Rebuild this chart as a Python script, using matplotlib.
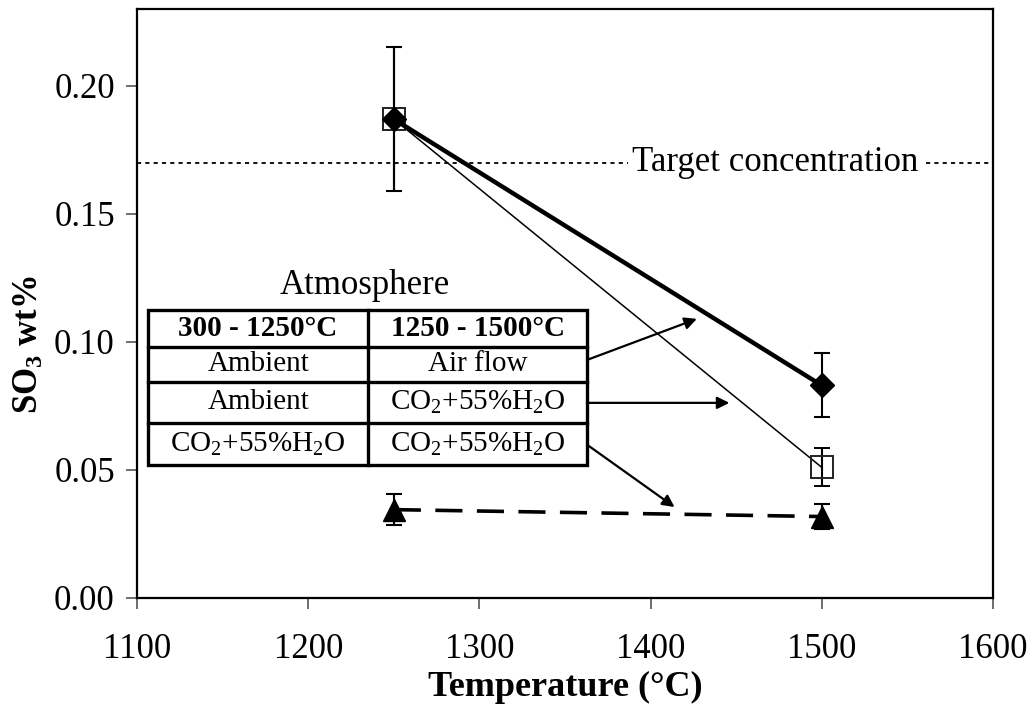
import matplotlib
matplotlib.use("Agg")
import matplotlib.pyplot as plt
from matplotlib.patches import Rectangle

plt.rcParams["font.family"] = ["Liberation Serif", "DejaVu Serif"]
plt.rcParams["mathtext.fontset"] = "custom"
plt.rcParams["mathtext.rm"] = "Liberation Serif"
plt.rcParams["mathtext.it"] = "Liberation Serif:italic"
plt.rcParams["mathtext.bf"] = "Liberation Serif:bold"

# data (SO3 wt% vs final temperature)
temps = [1250, 1500]
air_flow = [0.187, 0.083]
air_flow_err = [0.028, 0.0125]
co2_late = [0.187, 0.051]
co2_late_err = [0.028, 0.0074]
co2_all = [0.0345, 0.0318]
co2_all_err = [0.006, 0.005]
target = 0.17

x_ticks = [1100, 1200, 1300, 1400, 1500, 1600]
y_ticks = [0.00, 0.05, 0.10, 0.15, 0.20]

table_header = ["300 - 1250°C", "1250 - 1500°C"]
table_rows = [
    ["Ambient", "Air flow"],
    ["Ambient", "CO$_2$+55%H$_2$O"],
    ["CO$_2$+55%H$_2$O", "CO$_2$+55%H$_2$O"],
]

FS = 25
TABLE_FS = 21

fig = plt.figure(figsize=(10.32, 7.17), dpi=100)
ax = fig.add_axes([0.1328, 0.166, 0.8294, 0.8214])

err_kw = dict(ecolor="black", elinewidth=1.5, capsize=6, capthick=1.5)

# hollow squares first, diamonds drawn on top
ax.errorbar(temps, co2_late, yerr=co2_late_err, color="black", lw=1.1,
            marker="s", ms=15.5, mfc="none", mec="#222222", mew=1.4, zorder=3, **err_kw)
ax.errorbar(temps, air_flow, yerr=air_flow_err, color="black", lw=3.2,
            marker="D", ms=12, mfc="black", mec="black", zorder=4, **err_kw)
ax.errorbar(temps, co2_all, yerr=co2_all_err, color="black", lw=2.6,
            dashes=(7.5, 4), marker="^", ms=16.5, mfc="black", mec="black",
            zorder=4, **err_kw)

ax.axhline(target, color="black", lw=1.3, dashes=(2.3, 2.3), zorder=1)
ax.text(1473, target, "Target concentration", fontsize=FS, ha="center", va="center",
        bbox=dict(facecolor="white", edgecolor="none", pad=3), zorder=2)

ax.set_xlim(1100, 1600)
ax.set_ylim(0, 0.23)
ax.set_xticks(x_ticks)
ax.set_yticks(y_ticks)
ax.set_yticklabels([f"{v:.2f}" for v in y_ticks])
ax.tick_params(axis="both", direction="out", length=8, width=1.2, color="#555555",
               labelsize=FS)
ax.tick_params(axis="x", pad=17)
ax.tick_params(axis="y", pad=8)
for s in ax.spines.values():
    s.set_linewidth(1.6)

ax.set_xlabel("Temperature (°C)", fontsize=FS + 1, fontweight="bold", labelpad=4)
ax.set_ylabel(r"SO$_\mathbf{3}$ wt%", fontsize=FS, fontweight="bold")
ax.yaxis.set_label_coords(-0.106, 0.43)

# atmosphere table in axes fraction
col_x = [0.0129, 0.270, 0.526]
row_y = [0.489, 0.426, 0.367, 0.297, 0.226]
tlw = 2.4
ax.add_patch(Rectangle((col_x[0], row_y[-1]), col_x[-1] - col_x[0], row_y[0] - row_y[-1],
                       transform=ax.transAxes, facecolor="white", edgecolor="black",
                       lw=tlw, zorder=5))
for y in row_y[1:-1]:
    ax.plot([col_x[0], col_x[-1]], [y, y], transform=ax.transAxes, color="black",
            lw=tlw, zorder=6)
ax.plot([col_x[1], col_x[1]], [row_y[0], row_y[-1]], transform=ax.transAxes,
        color="black", lw=tlw, zorder=6)

all_rows = [table_header] + table_rows
for i, row in enumerate(all_rows):
    yc = (row_y[i] + row_y[i + 1]) / 2
    for j, txt in enumerate(row):
        xc = (col_x[j] + col_x[j + 1]) / 2
        ax.text(xc, yc, txt, transform=ax.transAxes, ha="center", va="center",
                fontsize=TABLE_FS, fontweight="bold" if i == 0 else "normal", zorder=7)
ax.text(0.266, 0.530, "Atmosphere", transform=ax.transAxes, ha="center", va="center",
        fontsize=FS, zorder=7)

# arrows from table rows to the series
arrow_kw = dict(arrowstyle="-|>", color="black", lw=1.6, mutation_scale=18,
                shrinkA=0, shrinkB=0)
ax.annotate("", xy=(1427, 0.109), xytext=(1363, 0.093), arrowprops=arrow_kw, zorder=8)
ax.annotate("", xy=(1446, 0.0762), xytext=(1363, 0.0762), arrowprops=arrow_kw, zorder=8)
ax.annotate("", xy=(1414, 0.0355), xytext=(1363, 0.0598), arrowprops=arrow_kw, zorder=8)

fig.savefig("out.png", dpi=100)
